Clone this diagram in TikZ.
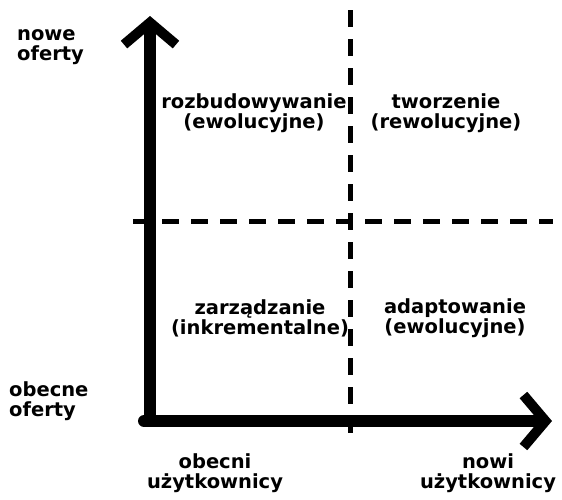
\documentclass[tikz,border=0pt]{standalone}
\usepackage{fontspec}
\setmainfont{DejaVu Sans}
\usepackage{tikz}
\usetikzlibrary{arrows.meta}
\usetikzlibrary{positioning}

\begin{document}
\begin{tikzpicture}[x=1pt, y=-1pt, line cap=round, line join=round,
    txt/.style={font=\bfseries\fontsize{19.5}{20}\selectfont, inner sep=0pt, align=center},
    axis/.style={line width=12pt, -{Straight Barb[length=22pt, width=52pt, line width=10pt]}},
    grid/.style={line width=5pt, line cap=butt, dash pattern=on 17pt off 12pt}]
  \useasboundingbox (0,0) rectangle (562,499);
  %--- Points
    \coordinate (O) at (150,421);
    \coordinate (Ytop) at (150,16);
    \coordinate (Xend) at (552,421);
    \coordinate (Vtop) at (350,10);
    \coordinate (Vbot) at (350,442);
    \coordinate (Hleft) at (133,221);
    \coordinate (Hright) at (553,221);
  %--- Lignes
    \draw[grid] (Vtop) -- (Vbot);
    \draw[grid] (Hleft) -- (Hright);
    \draw[axis] ([yshift=6pt]O) -- (Ytop);
    \draw[axis] ([xshift=-6pt]O) -- (Xend);
  %--- Textes
    \node[txt, align=left, anchor=west] (NO) at (17,47) {nowe\\oferty};
    \node[txt, align=left, anchor=west] (OO) at (9,401) {obecne\\oferty};
    \node[txt] (OU) at (215,473) {obecni\\użytkownicy};
    \node[txt] (NU) at (488,473) {nowi\\użytkownicy};
    \node[txt] (RE) at (254,113) {rozbudowywanie\\(ewolucyjne)};
    \node[txt] (TR) at (446,113) {tworzenie\\(rewolucyjne)};
    \node[txt] (ZI) at (260,318) {zarządzanie\\(inkrementalne)};
    \node[txt] (AE) at (455,318) {adaptowanie\\(ewolucyjne)};
  %---
\end{tikzpicture}
\end{document}
